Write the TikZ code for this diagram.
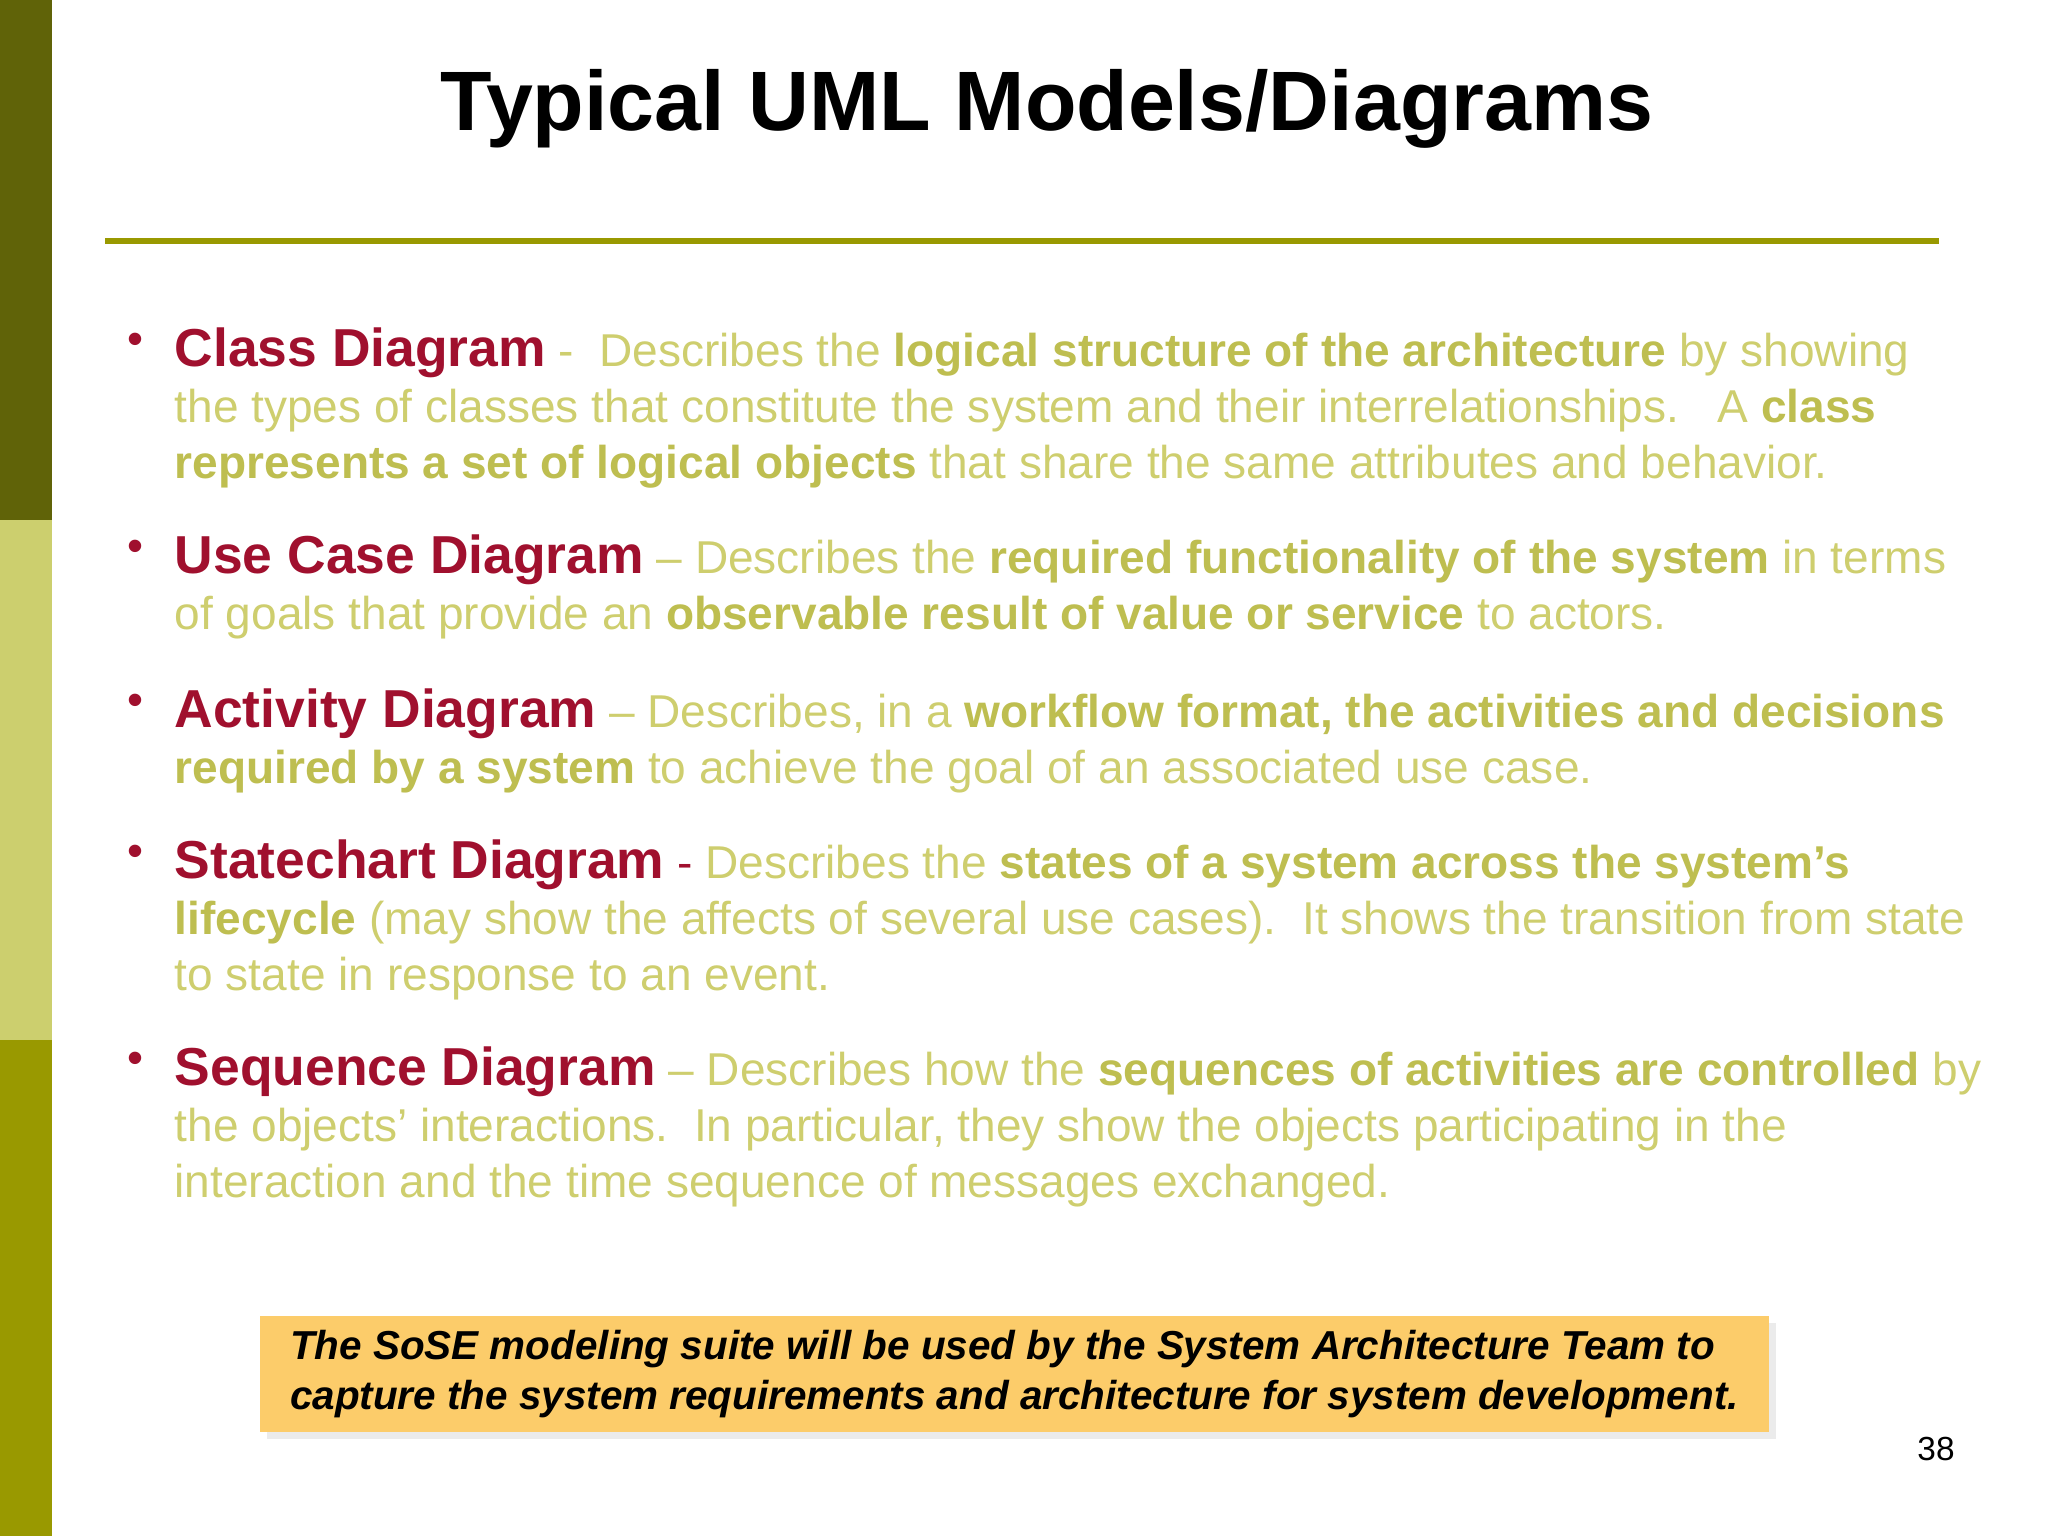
\documentclass[tikz,border=0pt]{standalone}
\usepackage{fontspec}
\setmainfont{Liberation Sans}
\usetikzlibrary{positioning,shadows}
\definecolor{barDark}{RGB}{96,99,8}
\definecolor{barLight}{RGB}{204,207,110}
\definecolor{barOlive}{RGB}{153,153,0}
\definecolor{headRed}{RGB}{160,16,46}
\definecolor{bodyGreen}{RGB}{206,206,110}
\definecolor{boldGreen}{RGB}{190,190,80}
\definecolor{noteFill}{RGB}{252,204,106}
\newcommand{\hd}[1]{{\color{headRed}\fontsize{15.2}{16}\selectfont\bfseries #1}}
\newcommand{\kw}[1]{{\color{boldGreen}\bfseries #1}}
\tikzset{
  item/.style={anchor=north west, align=left, inner sep=0pt, text=bodyGreen,
    font=\fontsize{13.1}{16}\selectfont},
  dot/.style={anchor=north west, inner sep=0pt, text=headRed, font=\fontsize{13}{16}\selectfont}
}
\begin{document}
\begin{tikzpicture}[x=1cm,y=-1cm]
  \useasboundingbox (0,0) rectangle (20.48,15.36);
  \fill[white] (0,0) rectangle (20.48,15.36);

  % left bar
  \fill[barDark] (0,0) rectangle (0.52,5.2);
  \fill[barLight] (0,5.2) rectangle (0.52,10.4);
  \fill[barOlive] (0,10.4) rectangle (0.52,15.36);

  % title and rule
  \node[font=\fontsize{24}{28}\selectfont\bfseries] (title) at (10.47,1.09) {Typical UML Models/Diagrams};
  \draw[barOlive, line width=1.6pt] (1.05,2.41) coordinate (ruleL) -- (19.39,2.41) coordinate (ruleR);

  % bullets
  \foreach \y in {3.32,5.39,6.93,8.44,10.51}
    \node[dot] at (1.27,\y) {•};

  \node[item] (class) at (1.74,3.27) {\hd{Class Diagram} -\ \ Describes the \kw{logical structure of the architecture} by showing\\
    the types of classes that constitute the system and their interrelationships.\ \ \ A \kw{class}\\
    \kw{represents a set of logical objects} that share the same attributes and behavior.};
  \node[item] (usecase) at (1.74,5.34) {\hd{Use Case Diagram} -- Describes the \kw{required functionality of the system} in terms\\
    of goals that provide an \kw{observable result of value or service} to actors.};
  \node[item] (activity) at (1.74,6.88) {\hd{Activity Diagram} -- Describes, in a \kw{workflow format, the activities and decisions}\\
    \kw{required by a system} to achieve the goal of an associated use case.};
  \node[item] (state) at (1.74,8.39) {\hd{Statechart Diagram} {\color{headRed}-} Describes the \kw{states of a system across the system’s}\\
    \kw{lifecycle} (may show the affects of several use cases).\ \ It shows the transition from state\\
    to state in response to an event.};
  \node[item] (sequence) at (1.74,10.46) {\hd{Sequence Diagram} -- Describes how the \kw{sequences of activities are controlled} by\\
    the objects’ interactions.\ \ In particular, they show the objects participating in the\\
    interaction and the time sequence of messages exchanged.};

  % note box
  \node[fill=noteFill, drop shadow={shadow xshift=2pt, shadow yshift=-2pt, fill=black!15},
    minimum width=15.05cm, minimum height=1.16cm, align=left, inner xsep=0.3cm,
    font=\fontsize{11.5}{14}\selectfont\bfseries\itshape] (note) at (10.145,13.74)
    {The SoSE modeling suite will be used by the System Architecture Team to\\
     capture the system requirements and architecture for system development.};
  \node[font=\fontsize{9.5}{11}\selectfont] (page) at (19.36,14.49) {38};
\end{tikzpicture}
\end{document}
